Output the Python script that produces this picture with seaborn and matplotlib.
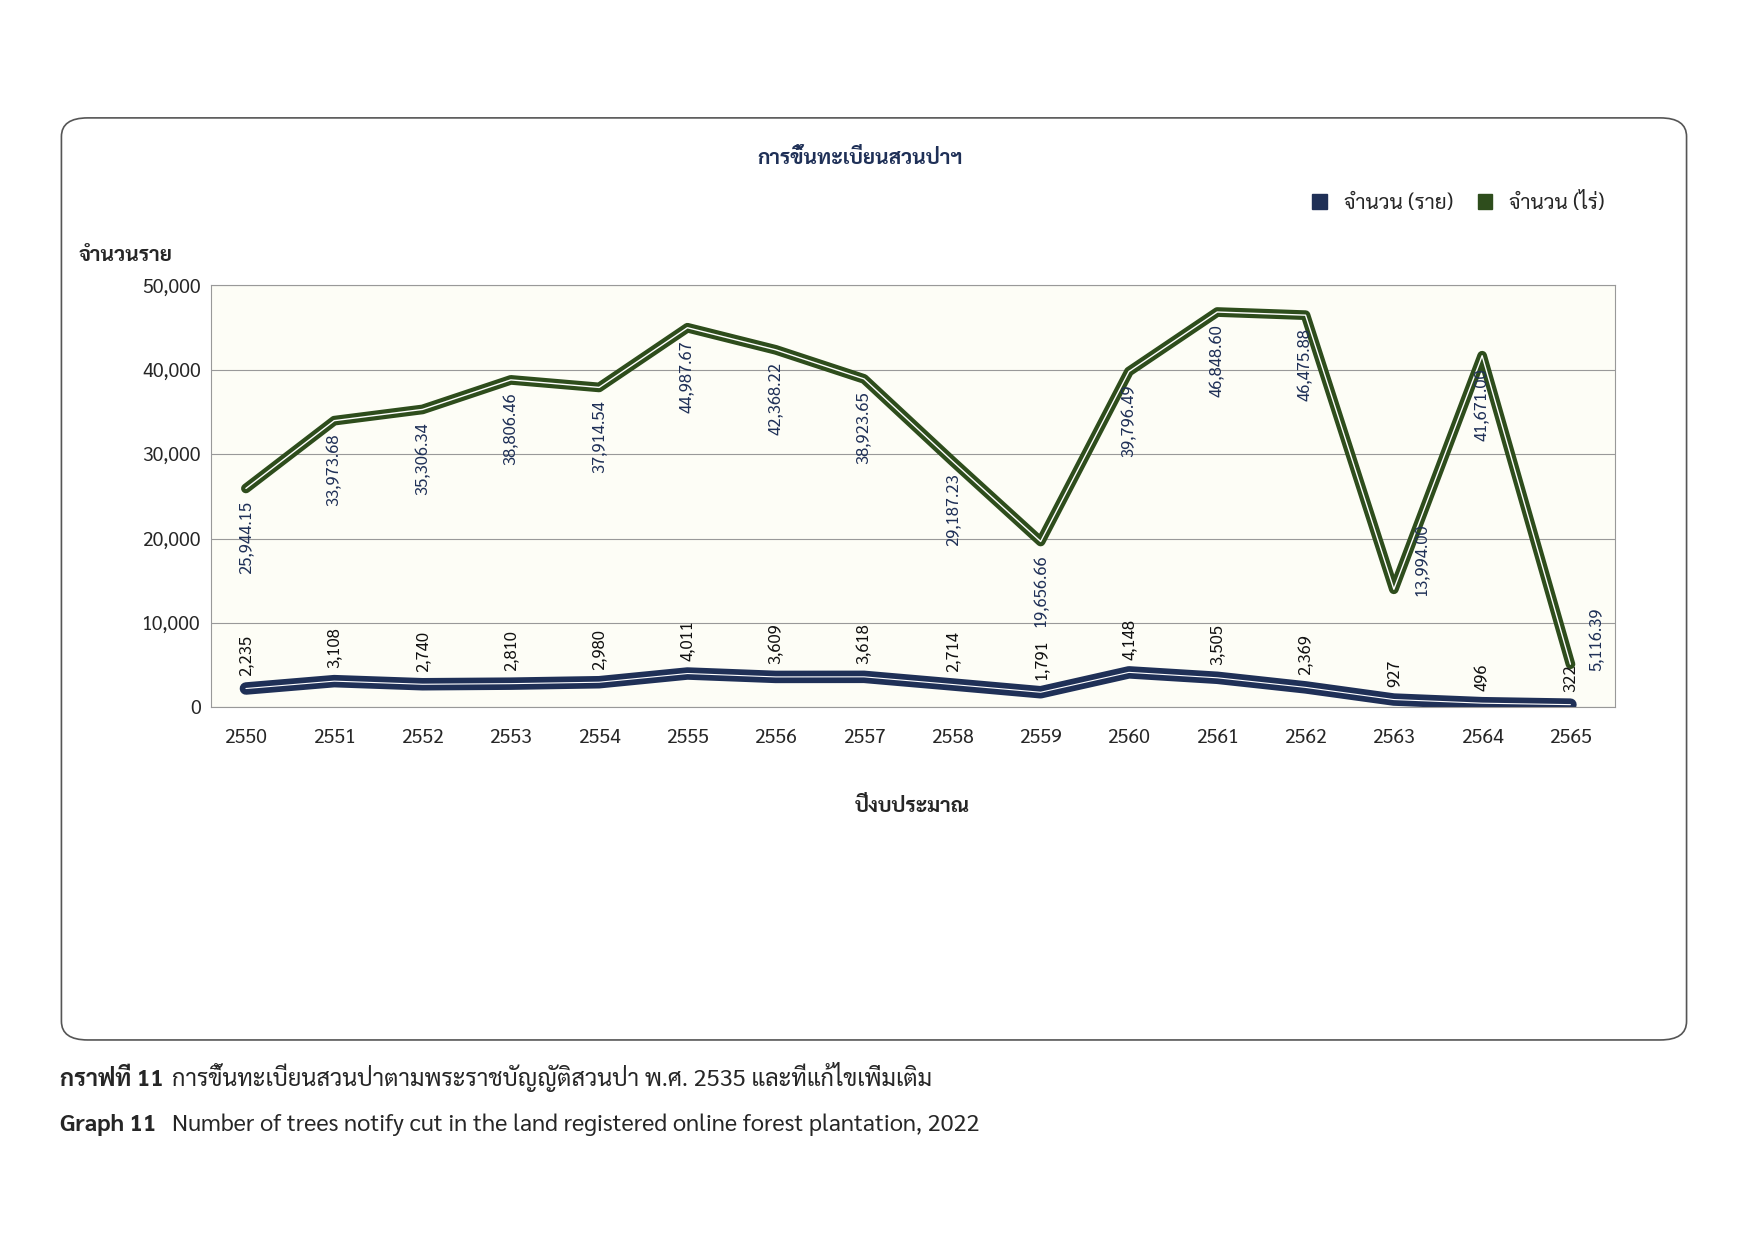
import matplotlib
matplotlib.use("Agg")
import matplotlib.pyplot as plt
import seaborn as sns
import pandas as pd
from matplotlib.patches import FancyBboxPatch

years = [str(y) for y in range(2550, 2566)]
cases = [2235, 3108, 2740, 2810, 2980, 4011, 3609, 3618, 2714, 1791, 4148, 3505, 2369, 927, 496, 322]
area = [25944.15, 33973.68, 35306.34, 38806.46, 37914.54, 44987.67, 42368.22, 38923.65,
        29187.23, 19656.66, 39796.49, 46848.60, 46475.88, 13994.00, 41671.00, 5116.39]

sns.set_style("white")
plt.rcParams['font.family'] = ['Sarabun', 'Bai Jamjuree', 'DejaVu Sans']

df = pd.DataFrame({'year': years, 'cases': cases, 'area': area})
df['x'] = range(len(years))

navy = '#1f3057'
green = '#2e4d1c'

fig = plt.figure(figsize=(17.55, 12.41), dpi=100)
fig.patches.append(FancyBboxPatch((0.035, 0.162), 0.926, 0.743, boxstyle="round,pad=0,rounding_size=0.015",
                                  transform=fig.transFigure, fill=False, ec='#555555', lw=1.2))
ax = fig.add_axes([0.12, 0.43, 0.80, 0.34])
ax.set_facecolor('#fdfdf6')

sns.lineplot(data=df, x='x', y='cases', ax=ax, color=navy, lw=9, legend=False)
sns.lineplot(data=df, x='x', y='cases', ax=ax, color='white', lw=0.8, legend=False)
sns.lineplot(data=df, x='x', y='area', ax=ax, color=green, lw=7, legend=False)
sns.lineplot(data=df, x='x', y='area', ax=ax, color='white', lw=1, legend=False)

for x, v in zip(df['x'], df['cases']):
    ax.text(x, v + 1500, f"{v:,}", rotation=90, ha='center', va='bottom', fontsize=12, color='#111111')
for x, v in zip(df['x'], df['area']):
    if v < 15000:
        ax.text(x + 0.3, v - 800, f"{v:,.2f}", rotation=90, ha='center', va='bottom', fontsize=12, color=navy)
    else:
        ax.text(x, v - 1500, f"{v:,.2f}", rotation=90, ha='center', va='top', fontsize=12, color=navy)

ax.set_ylim(0, 50000)
ax.set_xlim(-0.4, len(years) - 0.5)
ax.set_yticks(range(0, 50001, 10000))
ax.set_yticklabels([f"{v:,}" for v in range(0, 50001, 10000)], fontsize=14)
ax.set_xticks(df['x'])
ax.set_xticklabels(years, fontsize=14)
ax.tick_params(axis='x', pad=12)
ax.grid(axis='y', color='#999999', lw=0.8)
for s in ax.spines.values():
    s.set_color('#999999')
ax.set_xlabel('ปีงบประมาณ', fontsize=15, fontweight='bold', labelpad=35)
ax.set_ylabel('')
fig.text(0.045, 0.79, 'จำนวนราย', fontsize=15, fontweight='bold')
fig.text(0.49, 0.868, 'การขึ้นทะเบียนสวนป่าฯ', fontsize=15, fontweight='bold', color=navy, ha='center')
ax.legend(loc='center right', bbox_to_anchor=(0.925, 0.836), bbox_transform=fig.transFigure, ncol=2,
          frameon=False, fontsize=15, handlelength=0.7, handleheight=0.7, columnspacing=1.2,
          handles=[plt.Rectangle((0, 0), 1, 1, color=navy), plt.Rectangle((0, 0), 1, 1, color=green)],
          labels=['จำนวน (ราย)', 'จำนวน (ไร่)'])

fig.text(0.034, 0.125, 'กราฟที่ 11', fontsize=17, fontweight='bold')
fig.text(0.098, 0.125, 'การขึ้นทะเบียนสวนป่าตามพระราชบัญญัติสวนป่า พ.ศ. 2535 และที่แก้ไขเพิ่มเติม', fontsize=17)
fig.text(0.034, 0.089, 'Graph 11', fontsize=17, fontweight='bold')
fig.text(0.098, 0.089, 'Number of trees notify cut in the land registered online forest plantation, 2022', fontsize=17)

fig.savefig('out.png', dpi=100)
